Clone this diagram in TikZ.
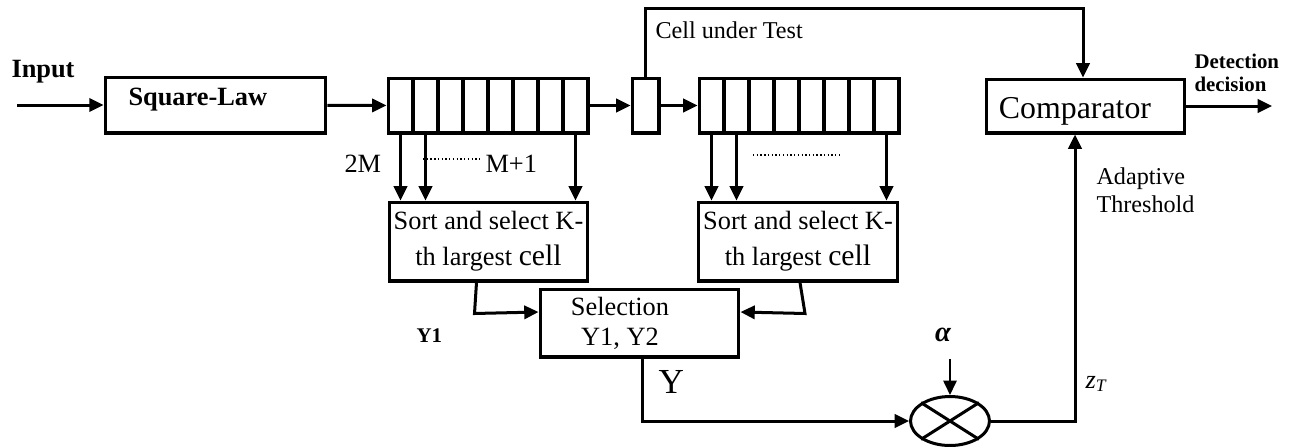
\documentclass[tikz,border=0pt]{standalone}
\usepackage{fontspec}
\setmainfont{Liberation Serif}
\usetikzlibrary{arrows.meta,positioning,shapes.geometric,calc}

\begin{document}
\begin{tikzpicture}[x=0.016cm,y=-0.016cm,line width=1.37pt,
    >={Triangle[length=6.5pt,width=6pt]},
    box/.style={draw,rectangle,inner sep=0pt},
    cell/.style={draw,rectangle,inner sep=0pt,minimum width=0.4cm,minimum height=0.88cm},
    lbl/.style={inner sep=0pt,font=\fontsize{12}{14}\selectfont},
    dots/.style={line width=0.6pt,dash pattern=on 0.6pt off 1.1pt}]
    \useasboundingbox (0,0) rectangle (1295,446);

    \node[box,minimum width=3.536cm,minimum height=0.896cm] (sq) at (215.5,105) {};
    \node[lbl,font=\fontsize{12}{14}\selectfont\bfseries,anchor=base west] (sqtxt) at (127,105) {Square-Law};
    \foreach \i in {1,...,8}
        \node[cell] (a\i) at (375.5+25*\i,105.5) {};
    \node[cell,minimum width=0.432cm] (cut) at (645.5,105.5) {};
    \foreach \i in {1,...,8}
        \node[cell] (b\i) at (686.5+25*\i,105.5) {};
    \node[box,minimum width=3.184cm,minimum height=0.864cm] (comp) at (1085.5,106) {};
    \node[lbl,font=\fontsize{14.5}{16}\selectfont,anchor=base] (comptxt) at (1075,118) {Comparator};

    \node[box,minimum width=3.184cm,minimum height=1.264cm,align=center,
        font=\fontsize{12}{16.4}\selectfont] (sortL) at (488.5,241.5)
        {Sort and select K-\\th largest {\fontsize{13.5}{16.4}\selectfont cell}};
    \node[box,minimum width=3.184cm,minimum height=1.264cm,align=center,
        font=\fontsize{12}{16.4}\selectfont] (sortR) at (798,241.5)
        {Sort and select K-\\th largest {\fontsize{13.5}{16.4}\selectfont cell}};
    \node[box,minimum width=3.184cm,minimum height=1.088cm] (sel) at (639.5,323) {};
    \node[lbl,align=center,font=\fontsize{12}{13.7}\selectfont] (seltxt) at (620,323) {Selection\\Y1, Y2};
    \node[draw,ellipse,inner sep=0pt,minimum width=1.264cm,minimum height=0.784cm] (mult) at (950,421) {};
    \draw (mult.north west) -- (mult.south east) (mult.north east) -- (mult.south west);

    % labels
    \node[lbl,font=\fontsize{12}{14}\selectfont\bfseries,anchor=base west] (input) at (10,77) {Input};
    \node[lbl,font=\fontsize{11}{13}\selectfont,anchor=base west] (cutlbl) at (654,38) {Cell under Test};
    \node[lbl,anchor=base west] (lbl2m) at (343,172) {2M};
    \node[lbl,anchor=base west] (lblm1) at (484,172) {M+1};
    \node[lbl,font=\fontsize{9.5}{11}\selectfont\bfseries,anchor=base west] (lbly1) at (415,342) {Y1};
    \node[lbl,font=\fontsize{16}{18}\selectfont,anchor=base west] (lbly) at (657,393) {Y};
    \node[lbl,font=\fontsize{13}{15}\selectfont\bfseries\itshape,anchor=base] (alpha) at (943,341) {α};
    \node[lbl,font=\fontsize{12}{14}\selectfont\itshape,anchor=base west] (zt) at (1084,388) {z\textsubscript{T}};
    \node[lbl,font=\fontsize{11}{12.7}\selectfont,align=left,anchor=west] (thr) at (1095,190) {Adaptive\\Threshold};
    \node[lbl,font=\fontsize{9.5}{10.5}\selectfont\bfseries,align=left,anchor=west] (dec) at (1193,73) {Detection\\decision};

    \coordinate (inp) at (17,105);
    \coordinate (out) at (1272,106);

    \path[->] (inp) edge (sq)
        (sq) edge (a1)
        (a8) edge (cut)
        (cut) edge (b1)
        (comp) edge (out);
    \draw[->] (cut.north) -- ++(0,-68) -| ($(comp.north)+(-2.5,0)$);

    \foreach \c in {a1,a2,a8}
        \draw[->] (\c.south) -- (\c.south |- sortL.north);
    \foreach \c in {b1,b2,b8}
        \draw[->] (\c.south) -- (\c.south |- sortR.north);
    \draw[dots] (423,159) -- (482,159);
    \draw[dots] (753,155) -- (839,155);

    \draw[->] ($(sortL.south)+(-12,0)$) -- ++(-2,31) -- ($(sel.west)+(0,-11)$);
    \draw[->] ($(sortR.south)+(2,0)$) -- ++(5,31) -- ($(sel.east)+(0,-11)$);
    \draw[->] ($(sel.south)+(2.5,0)$) |- (mult.west);
    \draw[->,line width=0.9pt] ($(alpha.south -| mult.north)+(0,16)$) -- (mult.north);
    \draw[->] (mult.east) -| ($(comp.south)+(-10.5,0)$);
\end{tikzpicture}
\end{document}
